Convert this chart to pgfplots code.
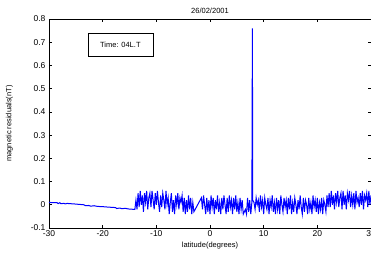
\documentclass[border=0pt]{standalone}
\usepackage{pgfplots}
\pgfplotsset{compat=1.18}
\usepackage{fontspec}
\setmainfont{Liberation Sans}
\definecolor{mblue}{RGB}{0,0,255}
\begin{document}
\begin{tikzpicture}
\begin{axis}[
  scale only axis, width=322pt, height=209pt,
  xmin=-30, xmax=30, ymin=-0.1, ymax=0.8,
  xtick={-30,-20,-10,0,10,20,30}, ytick={-0.1,0,0.1,0.2,0.3,0.4,0.5,0.6,0.7,0.8},
  yticklabels={-0.1,0,0.1,0.2,0.3,0.4,0.5,0.6,0.7,0.8},
  tick align=inside, major tick length=3pt,
  tick style={black, line width=0.6pt},
  axis line style={line width=0.8pt},
  /pgf/number format/assume math mode=true,
  ticklabel style={font=\fontsize{8.5}{10}\selectfont},
  xticklabel style={yshift=1pt},
  title={26/02/2001}, title style={font=\fontsize{7.5}{9}\selectfont, yshift=-4pt},
  xlabel={latitude(degrees)}, ylabel={magnetic residuals(nT)},
  label style={font=\fontsize{7.5}{9}\selectfont},
  xlabel style={yshift=1pt},
  ylabel style={yshift=11pt},
  clip=true,
]
\addplot[mblue, line width=1pt] table {
x y
-30 0.010
-28.5 0.009
-28.3 0.005
-28.0 0.009
-27.8 0.005
-27.2 0.006
-27.0 0.004
-26.6 0.006
-26.2 0.005
-25.5 0.004
-24.5 0.002
-23.5 0.000
-23.2 -0.004
-22.6 -0.003
-22.2 -0.006
-21.6 -0.004
-21.0 -0.007
-20.0 -0.008
-19.0 -0.010
-17.6 -0.012
-17.4 -0.016
-16.8 -0.014
-16.4 -0.017
-15.8 -0.015
-15.2 -0.018
-14.6 -0.019
-14.0 -0.020
-13.8 0.02
-13.6 -0.02
-13.4 0.05
-13.2 -0.01
-13.0 0.06
-12.8 0.00
-12.6 0.04
-12.4 -0.03
-12.2 0.05
-12.0 0.01
-11.8 0.06
-11.6 -0.02
-11.4 0.03
-11.2 0.05
-11.0 -0.01
-10.8 0.06
-10.6 0.02
-10.4 -0.02
-10.2 0.05
-10.0 0.00
-9.8 0.06
-9.6 0.01
-9.4 -0.03
-9.2 0.04
-9.0 -0.01
-8.8 0.05
-8.6 0.02
-8.4 -0.02
-8.2 0.06
-8.0 0.00
-7.8 0.03
-7.6 -0.04
-7.4 0.01
-7.2 0.05
-7.0 -0.03
-6.8 0.02
-6.6 -0.04
-6.4 0.04
-6.2 0.00
-6.0 0.05
-5.8 -0.02
-5.6 0.03
-5.4 0.01
-5.2 0.04
-5.0 -0.03
-4.8 0.03
-4.6 -0.04
-4.4 0.02
-4.2 -0.03
-4.0 0.04
-3.8 -0.02
-3.6 0.03
-3.4 -0.04
-3.2 0.01
-3.0 -0.03
-1.6 0.03
-1.4 -0.02
-1.2 0.04
-1.0 0.00
-0.8 -0.04
-0.6 0.03
-0.4 -0.03
-0.2 0.02
0.0 -0.04
0.2 0.04
0.4 -0.01
0.6 0.03
0.8 -0.04
1.0 0.02
1.2 -0.02
1.4 0.04
1.6 -0.03
1.8 0.01
2.0 -0.04
2.2 0.03
2.4 -0.02
2.6 0.04
2.8 0.00
3.0 -0.04
3.2 0.03
3.4 -0.03
3.6 0.04
3.8 -0.01
4.0 0.02
4.2 -0.04
4.4 0.03
4.6 -0.02
4.8 0.04
5.0 -0.03
5.2 0.01
5.4 -0.04
5.6 0.03
5.8 -0.02
6.0 0.02
6.2 -0.04
6.6 -0.02
6.8 -0.04
7.0 0.03
7.2 -0.03
7.4 0.02
7.6 -0.04
7.8 0.01
7.85 0.36
7.9 0.76
7.93 0.37
7.96 0.02
8.2 0.01
8.4 -0.02
8.6 0.03
8.8 0.00
9.0 0.02
9.2 -0.03
9.4 0.04
9.6 -0.01
9.8 0.02
10.0 -0.04
10.2 0.03
10.4 0.00
10.6 -0.02
10.8 0.03
11.0 -0.04
11.2 0.02
11.4 -0.01
11.6 0.04
11.8 -0.03
12.0 0.01
12.2 -0.04
12.4 0.03
12.6 -0.02
12.8 0.02
13.0 -0.04
13.2 0.04
13.4 0.00
13.6 -0.03
13.8 0.03
14.0 -0.01
14.2 0.02
14.4 -0.04
14.6 0.03
14.8 -0.02
15.0 0.04
15.2 -0.04
15.4 0.01
15.6 -0.03
15.8 0.03
16.0 0.00
16.2 -0.04
16.4 0.02
16.6 -0.02
16.8 0.04
17.0 -0.01
17.2 -0.04
17.4 0.03
17.6 -0.03
17.8 0.02
18.0 0.00
18.2 -0.04
18.4 0.03
18.6 -0.02
18.8 0.01
19.0 -0.04
19.2 0.04
19.4 -0.01
19.6 0.02
19.8 -0.03
20.0 0.03
20.2 -0.04
20.4 0.01
20.6 -0.02
20.8 0.03
21.0 -0.04
21.2 0.02
21.4 0.00
21.6 -0.03
21.8 0.04
22.0 -0.01
22.2 0.05
22.4 -0.01
22.6 0.06
22.8 0.00
23.0 0.04
23.2 -0.02
23.4 0.05
23.6 0.01
23.8 0.06
24.0 -0.01
24.2 0.03
24.4 0.05
24.6 -0.02
24.8 0.06
25.0 0.00
25.2 0.04
25.4 -0.02
25.6 0.05
25.8 0.02
26.0 0.06
26.2 -0.01
26.4 0.04
26.6 0.00
26.8 0.05
27.0 -0.02
27.2 0.06
27.4 0.01
27.6 0.03
27.8 -0.01
28.0 0.05
28.2 0.00
28.4 0.06
28.6 -0.02
28.8 0.04
29.0 0.02
29.2 0.05
29.4 -0.01
29.6 0.06
29.8 0.00
30.0 0.04
};
\node[draw, line width=0.6pt, fill=white, minimum width=65pt, minimum height=23pt,
  font=\fontsize{7.5}{9}\selectfont] at (axis cs:-16.7,0.69) {Time: 04L.T};
\end{axis}
\pgfresetboundingbox
\path[use as bounding box] (current axis.south west) ++(-49pt,-27pt) rectangle ++(371pt,255pt);
\end{tikzpicture}
\end{document}
